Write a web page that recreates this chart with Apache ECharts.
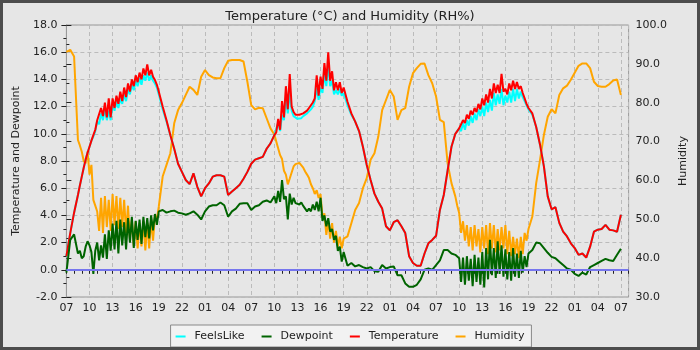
<!DOCTYPE html>
<html>
<head>
<meta charset="utf-8">
<script src="https://cdn.jsdelivr.net/npm/echarts@6/dist/echarts.min.js"></script>
<style>
    html, body { margin: 0; padding: 0; background: #e6e6e6; }
    #main { width: 700px; height: 350px; box-sizing: border-box; border: 3px solid #4d4d4d; background: #e6e6e6; }
</style>
</head>
<body>
<div id="main"></div>
<script>
// readings every half hour, starting 07:00
let stepHours = 0.5, startHour = 7;

let temperature = [
    1.0, 2.7, 4.2, 5.5, 6.85, 8.1, 9.05, 9.9, 11.0, 11.9,
    12.3, 12.6, 12.6, 12.8, 13.1, 13.4, 13.7, 14.0, 14.3, 14.5,
    14.8, 15.1, 14.7, 13.95, 13.1, 12.0, 11.0, 9.9, 8.9, 7.8,
    7.2, 6.6, 6.3, 7.1, 6.1, 5.4, 6.0, 6.35, 6.85, 6.95,
    6.95, 6.85, 5.5, 5.75, 6.0, 6.25, 6.7, 7.2, 7.8, 8.1,
    8.2, 8.3, 8.9, 9.3, 9.9, 11.1, 12.4, 13.5, 14.4, 11.6,
    11.4, 11.45, 11.6, 11.9, 12.3, 14.3, 14.2, 15.2, 16.0, 14.6,
    13.8, 13.8, 13.4, 12.36, 11.5, 10.9, 10.2, 9.05, 7.7, 6.6,
    5.6, 5.0, 4.5, 3.2, 2.9, 3.5, 3.65, 3.2, 2.7, 1.0,
    0.5, 0.3, 0.3, 1.2, 1.95, 2.2, 2.5, 4.4, 5.5, 7.3,
    9.05, 10.0, 10.4, 11.0, 11.4, 11.7, 11.9, 12.2, 12.6, 12.9,
    13.3, 13.7, 13.6, 14.4, 13.3, 13.7, 13.9, 13.8, 13.5, 12.6,
    11.9, 11.5, 10.5, 9.2, 7.6, 5.4, 4.45, 4.6, 3.45, 2.8,
    2.45, 1.95, 1.6, 1.1, 1.2, 0.9, 1.7, 2.8, 2.95, 3.0,
    3.3, 2.95, 2.9, 2.8, 4.05
];

let feelsLike = [
    1.0, 2.7, 4.2, 5.5, 6.85, 8.1, 9.05, 9.8, 10.9, 11.5,
    11.8, 11.7, 12.1, 12.4, 12.6, 12.9, 13.3, 13.6, 13.9, 14.1,
    14.3, 14.5, 14.3, 13.7, 12.9, 11.8, 10.9, 9.9, 8.9, 7.8,
    7.2, 6.6, 6.3, 7.1, 6.1, 5.4, 6.0, 6.35, 6.85, 6.95,
    6.95, 6.85, 5.5, 5.75, 6.0, 6.25, 6.7, 7.2, 7.8, 8.1,
    8.2, 8.3, 8.9, 9.3, 9.9, 10.8, 11.4, 12.6, 13.1, 11.3,
    11.1, 11.15, 11.3, 11.6, 12.0, 13.4, 13.4, 14.4, 15.1, 13.9,
    13.2, 13.3, 13.0, 12.1, 11.4, 10.9, 10.2, 9.05, 7.7, 6.6,
    5.6, 5.0, 4.5, 3.2, 2.9, 3.5, 3.65, 3.2, 2.7, 1.0,
    0.5, 0.3, 0.3, 1.2, 1.95, 2.2, 2.5, 4.4, 5.5, 7.3,
    9.05, 10.0, 10.4, 10.8, 11.0, 11.3, 11.5, 11.8, 12.0, 12.3,
    12.5, 13.0, 12.9, 13.3, 12.8, 13.1, 13.3, 13.3, 13.1, 12.4,
    11.8, 11.4, 10.5, 9.2, 7.6, 5.4, 4.45, 4.6, 3.45, 2.8,
    2.45, 1.95, 1.6, 1.1, 1.2, 0.9, 1.7, 2.8, 2.95, 3.0,
    3.3, 2.95, 2.9, 2.8, 4.05
];

let dewpoint = [
    -0.2, 2.2, 2.6, 1.2, 0.85, 1.7, 1.8, -0.3, 2.0, 1.8,
    2.6, 2.9, 3.4, 3.6, 3.7, 3.5, 3.8, 3.9, 3.6, 3.7,
    3.9, 3.8, 4.0, 4.1, 4.3, 4.4, 4.2, 4.3, 4.35, 4.2,
    4.15, 4.05, 4.15, 4.3, 4.05, 3.7, 4.3, 4.65, 4.75, 4.75,
    4.95, 4.75, 3.9, 4.3, 4.5, 4.85, 4.9, 4.9, 4.4, 4.65,
    4.75, 5.0, 5.1, 4.95, 5.4, 5.8, 6.6, 5.4, 5.6, 5.3,
    5.0, 4.95, 4.6, 4.5, 4.8, 5.0, 5.3, 4.0, 3.8, 3.0,
    2.5, 1.7, 1.3, 0.3, 0.5, 0.25, 0.35, 0.2, 0.1, 0.2,
    -0.1, -0.15, 0.35, 0.1, 0.2, 0.25, -0.4, -0.4, -1.0, -1.25,
    -1.25, -1.1, -0.7, 0.0, 0.1, 0.0, 0.35, 0.7, 1.45, 1.45,
    1.2, 1.1, 0.85, 0.9, 1.0, 0.8, 1.1, 0.9, 1.3, 1.6,
    2.2, 1.6, 2.1, 1.8, 1.5, 1.3, 1.6, 1.2, 1.4, 1.0,
    1.2, 1.45, 2.0, 1.95, 1.6, 1.25, 0.95, 0.85, 0.6, 0.35,
    0.1, 0.0, -0.3, -0.45, -0.2, -0.35, 0.2, 0.35, 0.5, 0.65,
    0.8, 0.7, 0.65, 1.1, 1.55
];

let humidity = [
    93.1, 93.6, 91.9, 70.4, 67.4, 64.4, 61.5, 55.0, 52.0, 55.5,
    56.0, 55.0, 56.5, 56.0, 55.5, 55.0, 53.5, 50.0, 49.5, 49.0,
    49.5, 49.0, 50.0, 51.0, 53.3, 61.0, 64.0, 67.0, 74.7, 78.1,
    79.9, 82.0, 84.1, 83.3, 82.0, 86.7, 88.4, 87.1, 86.5, 86.3,
    86.3, 88.9, 90.8, 91.0, 91.0, 91.0, 90.6, 85.4, 79.4, 78.3,
    78.7, 78.6, 76.0, 73.4, 71.8, 69.5, 65.5, 61.5, 60.5, 63.6,
    64.6, 64.3, 62.3, 60.6, 58.0, 57.5, 56.5, 51.5, 49.5, 49.0,
    47.0, 45.5, 45.0, 45.6, 49.0, 52.4, 54.2, 58.0, 60.6, 65.3,
    67.0, 71.3, 78.1, 80.7, 83.3, 81.6, 75.6, 78.1, 78.6, 84.1,
    87.6, 88.9, 90.0, 90.1, 87.1, 85.0, 81.6, 75.6, 75.0, 64.4,
    59.3, 55.9, 51.6, 49.5, 48.5, 48.0, 48.5, 47.5, 48.0, 48.5,
    49.0, 48.5, 47.5, 48.0, 48.5, 47.0, 45.5, 45.0, 45.5, 46.5,
    47.5, 50.7, 59.3, 65.3, 71.7, 76.4, 78.3, 77.3, 82.0, 83.7,
    84.4, 85.9, 87.7, 89.5, 90.1, 90.1, 88.9, 85.4, 84.3, 84.1,
    84.1, 84.8, 85.7, 86.0, 82.0
];

// extra quarter-hour readings in the gusty periods (lower edge of the noise)
let extraStarts = [1.75, 3.75, 27.25, 50.75];

let temperatureExtra = [
    [6.2, 7.5, 8.6, 9.5],
    [10.3, 10.9, 11.3, 11.2, 11.2, 11.9, 12.2, 12.4, 12.7, 13.1, 13.5, 13.8, 14.0, 14.3, 14.3, 14.2, 13.6],
    [10.1, 10.3, 11.2, 11.8, 12.0, 11.4, 11.4, 11.5, 11.7, 12.0, 12.6, 12.8, 13.3, 13.9, 13.9, 13.2, 13.2, 13.0],
    [10.2, 10.5, 10.8, 11.1, 11.4, 11.6, 11.8, 12.1, 12.3, 12.6, 13.0, 13.0, 13.1, 12.9, 13.2, 13.3, 13.3, 13.0, 12.2]
];

let feelsLikeExtra = [
    [6.2, 7.5, 8.6, 9.5],
    [10.2, 10.7, 11.0, 11.0, 11.0, 11.7, 11.9, 12.2, 12.4, 12.9, 13.2, 13.5, 13.6, 13.9, 13.9, 13.9, 13.4],
    [10.0, 10.2, 11.0, 11.5, 11.7, 11.2, 11.2, 11.3, 11.5, 11.8, 12.4, 12.5, 13.0, 13.5, 13.5, 12.9, 12.9, 12.8],
    [10.1, 10.2, 10.3, 10.6, 10.8, 11.0, 11.3, 11.3, 11.6, 11.7, 12.1, 12.2, 12.1, 12.3, 12.3, 12.4, 12.6, 12.7, 12.1]
];

let dewpointExtra = [
    [1.4, 1.0, 2.1, 1.3],
    [1.4, 0.7, 0.9, 0.8, 1.4, 1.5, 1.2, 1.8, 1.5, 2.0, 1.6, 2.2, 1.9, 2.4, 2.3, 2.9, 3.3],
    [4.9, 5.0, 5.2, 3.7, 4.8, 4.9, 4.8, 4.7, 4.3, 4.3, 4.4, 4.3, 3.6, 3.2, 2.8, 2.2, 1.4, 0.6],
    [1.0, -0.9, -1.1, -0.8, -1.2, -0.9, -1.1, -1.3, -0.7, -0.4, -0.6, -0.3, -0.5, -0.7, -0.8, -0.5, -0.6, -0.2, 0.2]
];

let humidityExtra = [
    [69.0, 65.0, 67.5, 64.0],
    [53.5, 47.0, 46.5, 48.0, 47.0, 48.5, 47.5, 48.0, 46.5, 45.0, 43.0, 42.5, 43.0, 42.0, 42.5, 44.5, 50.0],
    [70.0, 66.5, 62.5, 59.0, 61.0, 64.2, 64.5, 63.3, 61.5, 59.0, 56.5, 55.5, 50.5, 46.0, 45.0, 44.0, 43.0, 42.5],
    [53.5, 46.5, 44.5, 43.0, 42.0, 43.0, 41.5, 42.5, 41.0, 42.5, 41.5, 42.0, 42.5, 41.0, 40.5, 41.0, 40.0, 41.0, 44.5]
];

let seriesNames = ['FeelsLike', 'Dewpoint', 'Temperature', 'Humidity'];

// 合并半小时数据和补充数据，按时间排序
function toPairs(arr, extra) {
    let out = [];
    for (let i = 0; i < arr.length; i++) {
        out.push([i * stepHours, arr[i]]);
    }
    for (let w = 0; w < extra.length; w++) {
        for (let k = 0; k < extra[w].length; k++) {
            out.push([extraStarts[w] + k * stepHours, extra[w][k]]);
        }
    }
    out.sort(function (a, b) { return a[0] - b[0]; });
    return out;
}

function hourLabel(v) {
    if (v % 3 !== 0) return '';
    let h = (startHour + v) % 24;
    return (h < 10 ? '0' : '') + h;
}

let font = 'DejaVu Sans';
let axisGrey = '#999';
let textColor = '#222';
let dashStyle = {color: '#bbb', type: [4, 3], width: 1};

let myChart = echarts.init(document.getElementById('main'));
let option = {
    animation: false,
    backgroundColor: '#e6e6e6',
    textStyle: {fontFamily: font},
    title: {
        text: 'Temperature (°C) and Humidity (RH%)',
        left: 'center',
        top: 2,
        textStyle: {fontFamily: font, fontSize: 13, fontWeight: 'normal', color: textColor}
    },
    legend: {
        data: seriesNames,
        left: 'center',
        bottom: 0,
        icon: 'rect',
        itemWidth: 10,
        itemHeight: 2,
        itemGap: 17,
        padding: [6, 7, 5, 5],
        backgroundColor: '#f2f2f2',
        borderColor: '#888',
        borderWidth: 1,
        borderRadius: 0,
        textStyle: {fontFamily: font, fontSize: 11, color: textColor, padding: [0, 0, 0, 4]}
    },
    grid: {
        left: 52,
        right: 57,
        top: 22,
        bottom: 50,
        show: true,
        borderColor: axisGrey,
        borderWidth: 1,
        backgroundColor: 'transparent'
    },
    xAxis: [
        {
            type: 'value',
            min: 0,
            max: 73,
            interval: 1,
            axisLine: {show: true, lineStyle: {color: axisGrey}},
            axisTick: {show: true, length: 4, lineStyle: {color: '#222'}},
            axisLabel: {formatter: hourLabel, fontSize: 11, color: textColor, margin: 6, fontFamily: font},
            splitLine: {show: false}
        },
        {
            type: 'value',
            min: 0,
            max: 73,
            interval: 3,
            position: 'bottom',
            axisLine: {show: false},
            axisTick: {show: false},
            axisLabel: {show: false},
            splitLine: {show: true, lineStyle: dashStyle}
        }
    ],
    yAxis: [
        {
            type: 'value',
            min: -2,
            max: 18,
            interval: 2,
            name: 'Temperature and Dewpoint',
            nameLocation: 'middle',
            nameGap: 33,
            nameTextStyle: {fontSize: 11, color: textColor, fontFamily: font},
            axisLine: {show: true, lineStyle: {color: axisGrey}},
            axisTick: {show: true, length: 5, lineStyle: {color: '#222'}},
            minorTick: {show: true, splitNumber: 2, length: 3, lineStyle: {color: '#222'}},
            axisLabel: {formatter: v => v.toFixed(1), fontSize: 11, color: textColor, margin: 9, fontFamily: font},
            splitLine: {show: true, lineStyle: dashStyle}
        },
        {
            type: 'value',
            min: 30,
            max: 100,
            interval: 10,
            position: 'right',
            name: 'Humidity',
            nameLocation: 'middle',
            nameGap: 37,
            nameTextStyle: {fontSize: 11, color: textColor, fontFamily: font},
            axisLine: {show: true, lineStyle: {color: axisGrey}},
            axisTick: {show: true, length: 5, lineStyle: {color: '#222'}},
            minorTick: {show: true, splitNumber: 2, length: 3, lineStyle: {color: '#222'}},
            axisLabel: {formatter: v => v.toFixed(1), fontSize: 11, color: textColor, margin: 7, fontFamily: font},
            splitLine: {show: false}
        }
    ],
    series: [
        {
            name: 'Humidity',
            type: 'line',
            yAxisIndex: 1,
            showSymbol: false,
            data: toPairs(humidity, humidityExtra),
            itemStyle: {color: '#ffa500'},
            lineStyle: {color: '#ffa500', width: 2}
        },
        {
            name: 'FeelsLike',
            type: 'line',
            showSymbol: false,
            data: toPairs(feelsLike, feelsLikeExtra),
            itemStyle: {color: '#00ffff'},
            lineStyle: {color: '#00ffff', width: 2},
            markLine: {
                silent: true,
                symbol: ['none', 'none'],
                label: {show: false},
                lineStyle: {color: '#7676ee', width: 2, type: 'solid', opacity: 1},
                data: [{yAxis: 0}]
            }
        },
        {
            name: 'Temperature',
            type: 'line',
            showSymbol: false,
            data: toPairs(temperature, temperatureExtra),
            itemStyle: {color: '#ff0000'},
            lineStyle: {color: '#ff0000', width: 2}
        },
        {
            name: 'Dewpoint',
            type: 'line',
            showSymbol: false,
            data: toPairs(dewpoint, dewpointExtra),
            itemStyle: {color: '#006400'},
            lineStyle: {color: '#006400', width: 2}
        }
    ]
};
myChart.setOption(option);
</script>
</body>
</html>
